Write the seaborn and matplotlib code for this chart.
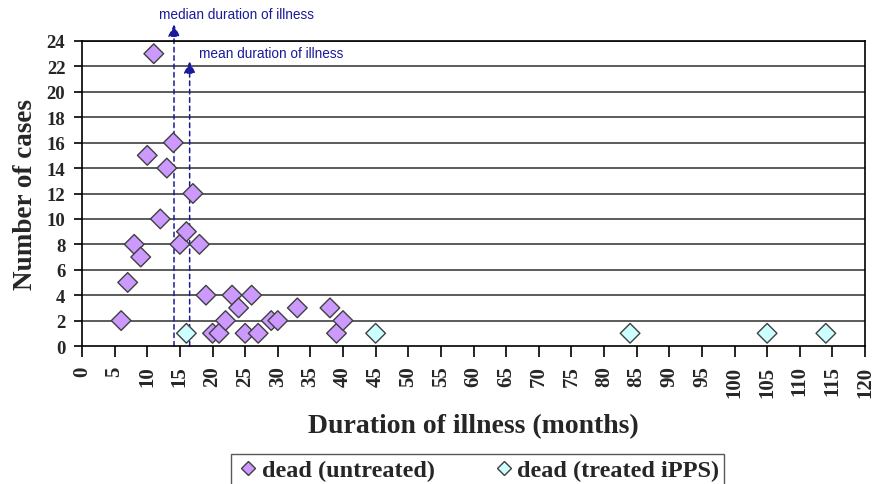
import matplotlib
matplotlib.use("Agg")
import matplotlib.pyplot as plt
import seaborn as sns
import pandas as pd

# Data
untreated_x = [6, 7, 8, 9, 10, 11, 12, 13, 14, 15, 16, 17, 18, 19, 20, 21, 22, 23, 24, 25, 26, 27, 29, 30, 33, 38, 39, 40]
untreated_y = [2, 5, 8, 7, 15, 23, 10, 14, 16, 8, 9, 12, 8, 4, 1, 1, 2, 4, 3, 1, 4, 1, 2, 2, 3, 3, 1, 2]
treated_x = [16, 45, 84, 105, 114]
treated_y = [1, 1, 1, 1, 1]
series_names = ["dead (untreated)", "dead (treated iPPS)"]
median_duration = 14.1
mean_duration = 16.5
x_ticks = list(range(0, 121, 5))
y_ticks = list(range(0, 25, 2))

df = pd.DataFrame({
    "duration": untreated_x + treated_x,
    "cases": untreated_y + treated_y,
    "group": [series_names[0]] * len(untreated_x) + [series_names[1]] * len(treated_x),
})

sns.set_theme(style="white")
plt.rcParams["font.family"] = ["Liberation Serif", "DejaVu Serif"]

fig = plt.figure(figsize=(8.75, 4.85), dpi=100)
ax = fig.add_axes([82 / 875, 1 - 347 / 485, (865 - 82) / 875, (347 - 42) / 485])

for y in y_ticks[1:]:
    ax.axhline(y, color="#404040", lw=1.2, zorder=0)

# reference lines
navy = "#1a1a9a"
for xv, top in [(median_duration, 25.3), (mean_duration, 22.4)]:
    ax.annotate("", xy=(xv, top), xytext=(xv, 0), xycoords="data",
                arrowprops=dict(arrowstyle="-|>,head_length=0.6,head_width=0.3", color=navy,
                                lw=1.1, ls=(0, (3, 2.5)), mutation_scale=12,
                                shrinkA=0, shrinkB=0),
                annotation_clip=False, zorder=1)

sns.scatterplot(data=df, x="duration", y="cases", hue="group", style="group",
                markers={series_names[0]: "D", series_names[1]: "D"},
                palette={series_names[0]: "#cc99ff", series_names[1]: "#ccffff"},
                s=100, edgecolor="#404040", linewidth=1.0, ax=ax, zorder=3, clip_on=False)

ax.text(11.8, 26.1, "median duration of illness", color=navy, fontsize=9.8,
        family="Liberation Sans", va="center", ha="left", clip_on=False)
ax.text(17.9, 23.05, "mean duration of illness", color=navy, fontsize=9.8,
        family="Liberation Sans", va="center", ha="left")

ax.set_xlim(0, 120)
ax.set_ylim(0, 24)
ax.set_xticks(x_ticks)
ax.set_yticks(y_ticks)
ax.set_xticklabels([str(t) for t in x_ticks], rotation=90, fontsize=15, fontweight="bold")
ax.set_yticklabels([str(t) for t in y_ticks], fontsize=13.5, fontweight="bold")
ax.tick_params(axis="x", direction="out", length=8, width=1.2, color="black", bottom=True, pad=6)
ax.tick_params(axis="y", direction="out", length=6, width=1.2, color="black", left=True, pad=6)
for sp in ax.spines.values():
    sp.set_color("black")
    sp.set_linewidth(1.2)

ax.set_xlabel("Duration of illness (months)", fontsize=20, fontweight="bold", labelpad=12)
ax.set_ylabel("Number of cases", fontsize=19.5, fontweight="bold", labelpad=6)

handles, labels = ax.get_legend_handles_labels()
ax.legend(handles, labels, loc="lower center", bbox_to_anchor=(0.546, -0.004),
          bbox_transform=fig.transFigure, ncol=2, frameon=True, fancybox=False,
          edgecolor="#303030", prop={"family": "Liberation Serif", "weight": "bold", "size": 17.5},
          handletextpad=0.05, columnspacing=2.35, borderpad=0.2, markerscale=0.75,
          handlelength=1.0, borderaxespad=0)

fig.savefig("out.png", dpi=100)
